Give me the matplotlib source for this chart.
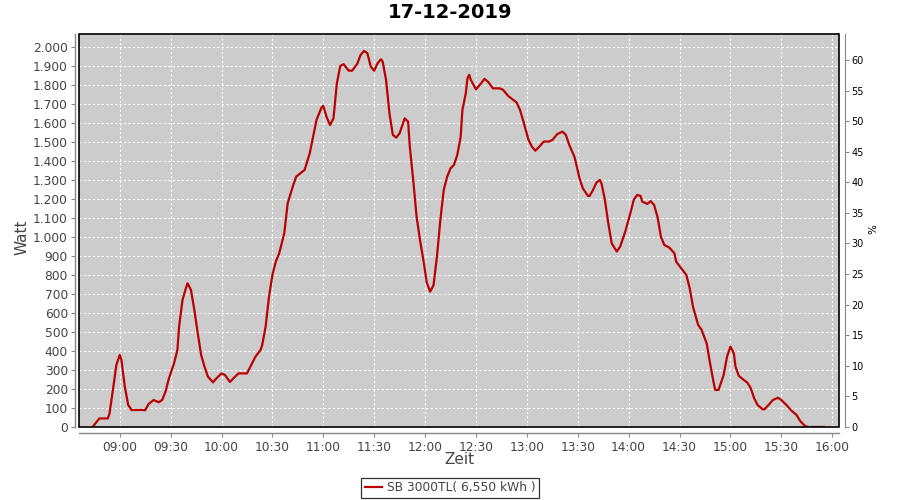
"""
Daily PV yield chart: inverter power over the day.
"""

import matplotlib

matplotlib.use("Agg")

import matplotlib.dates as mdates
import matplotlib.pyplot as plt
import numpy as np
import pandas as pd
from matplotlib.patches import Rectangle
from matplotlib.ticker import FuncFormatter

day = "2019-12-17"
title = "17-12-2019"
series_label = "SB 3000TL( 6,550 kWh )"

times = [
    "08:44", "08:48", "08:53", "08:54", "08:56", "08:58", "09:00", "09:01",
    "09:03", "09:05", "09:07", "09:13", "09:15", "09:17", "09:20", "09:23",
    "09:25", "09:27", "09:29", "09:32", "09:34", "09:35", "09:37", "09:39",
    "09:40", "09:42", "09:44", "09:46", "09:48", "09:50", "09:52", "09:55",
    "09:57", "10:00", "10:02", "10:05", "10:07", "10:10", "10:15", "10:17",
    "10:20", "10:23", "10:24", "10:26", "10:28", "10:30", "10:32", "10:34",
    "10:37", "10:39", "10:42", "10:44", "10:49", "10:52", "10:54", "10:56",
    "10:59", "11:00", "11:02", "11:04", "11:06", "11:08", "11:10", "11:12",
    "11:15", "11:17", "11:20", "11:22", "11:24", "11:26", "11:28", "11:30",
    "11:32", "11:34", "11:35", "11:37", "11:39", "11:41", "11:43", "11:45",
    "11:47", "11:48", "11:50", "11:51", "11:53", "11:55", "11:57", "11:59",
    "12:01", "12:03", "12:05", "12:07", "12:09", "12:11", "12:13", "12:15",
    "12:17", "12:19", "12:21", "12:22", "12:24", "12:25", "12:26", "12:27",
    "12:30", "12:33", "12:35", "12:37", "12:40", "12:44", "12:46", "12:49",
    "12:52", "12:54", "12:56", "12:58", "13:01", "13:03", "13:05", "13:07",
    "13:10", "13:13", "13:15", "13:18", "13:21", "13:23", "13:25", "13:28",
    "13:29", "13:31", "13:33", "13:36", "13:37", "13:39", "13:41", "13:43",
    "13:44", "13:46", "13:48", "13:50", "13:53", "13:55", "13:58", "14:01",
    "14:03", "14:05", "14:07", "14:08", "14:11", "14:13", "14:15", "14:17",
    "14:19", "14:21", "14:24", "14:27", "14:28", "14:31", "14:34", "14:36",
    "14:38", "14:41", "14:43", "14:46", "14:48", "14:50", "14:51", "14:53",
    "14:56", "14:58", "15:00", "15:02", "15:03", "15:05", "15:08", "15:10",
    "15:12", "15:14", "15:16", "15:19", "15:20", "15:23", "15:25", "15:28",
    "15:30", "15:33", "15:36", "15:39", "15:41", "15:44", "15:46", "15:47",
    "15:48", "15:55",
]

watts = [
    0, 45, 45, 72, 195, 326, 379, 353,
    212, 116, 89, 90, 88, 121, 142, 130,
    142, 186, 256, 335, 405, 528, 668, 730,
    756, 721, 616, 493, 379, 317, 265, 235,
    256, 282, 274, 237, 256, 282, 282, 317,
    370, 405, 432, 528, 686, 800, 870, 914,
    1019, 1177, 1265, 1317, 1353, 1440, 1528, 1616,
    1682, 1689, 1630, 1589, 1624, 1808, 1900, 1909,
    1875, 1875, 1911, 1958, 1979, 1967, 1896, 1875,
    1914, 1935, 1923, 1826, 1651, 1537, 1523, 1546,
    1598, 1624, 1607, 1475, 1300, 1107, 984, 879,
    760, 712, 747, 896, 1089, 1247, 1317, 1361,
    1379, 1432, 1528, 1668, 1756, 1835, 1853, 1826,
    1777, 1808, 1832, 1818, 1782, 1782, 1774, 1742,
    1721, 1707, 1668, 1607, 1510, 1475, 1454, 1472,
    1502, 1502, 1510, 1542, 1554, 1537, 1484, 1423,
    1388, 1309, 1256, 1216, 1216, 1247, 1286, 1300,
    1282, 1195, 1072, 967, 923, 949, 1028, 1125,
    1195, 1221, 1216, 1186, 1174, 1189, 1168, 1107,
    1002, 958, 944, 914, 870, 835, 800, 730,
    630, 537, 511, 440, 335, 239, 195, 195,
    274, 370, 423, 388, 317, 268, 247, 233,
    204, 151, 116, 93, 93, 121, 142, 154,
    142, 116, 86, 63, 33, 5, 0, np.nan,
    0, 0,
]

x_start = "08:36"
x_end = "16:04"
watt_max = 2068
watt_ticks = np.arange(0, 2001, 100)
percent_max = 64.25
percent_ticks = np.arange(0, 61, 5)

red = "#BB0000"
label_grey = "#444444"
axis_grey = "#888888"

stamps = pd.to_datetime([f"{day} {t}" for t in times])

fig = plt.figure(figsize=(9, 5), dpi=100)
ax = fig.add_axes([79 / 900, 73 / 500, 760 / 900, 393 / 500])
ax.set_facecolor("#CCCCCC")

ax.plot(stamps, watts, color=red, linewidth=1.6, zorder=3, label=series_label)

ax.set_xlim(pd.Timestamp(f"{day} {x_start}"), pd.Timestamp(f"{day} {x_end}"))
ax.set_ylim(0, watt_max)
ax.xaxis.set_major_locator(mdates.MinuteLocator(byminute=[0, 30]))
ax.xaxis.set_major_formatter(mdates.DateFormatter("%H:%M"))
ax.set_yticks(watt_ticks)
ax.yaxis.set_major_formatter(
    FuncFormatter(lambda v, pos: f"{int(v):,}".replace(",", "."))
)

ax.grid(True, color="white", linestyle=(0, (2, 2)), linewidth=0.8)
ax.set_axisbelow(True)

for side in ("top", "right"):
    ax.spines[side].set_visible(False)
ax.spines["left"].set_position(("outward", 3))
ax.spines["bottom"].set_position(("outward", 4))
for side in ("left", "bottom"):
    ax.spines[side].set_color(axis_grey)
    ax.spines[side].set_linewidth(1.0)

ax.tick_params(axis="both", colors=axis_grey, labelcolor=label_grey,
               labelsize=8.8, length=3, width=0.8)
ax.tick_params(axis="x", pad=3)
ax.tick_params(axis="y", pad=2)

# black frame around the plot area, the axis lines sit just outside it
ax.add_patch(Rectangle((0, 0), 1, 1, transform=ax.transAxes, fill=False,
                       edgecolor="black", linewidth=1.2, clip_on=False, zorder=4))

ax2 = ax.twinx()
ax2.set_ylim(0, percent_max)
ax2.set_yticks(percent_ticks)
for side in ("top", "left", "bottom"):
    ax2.spines[side].set_visible(False)
ax2.spines["right"].set_position(("outward", 4))
ax2.spines["right"].set_color(axis_grey)
ax2.tick_params(axis="y", colors=axis_grey, labelcolor="black",
                labelsize=7, length=3, width=0.8, pad=2)

fig.text(0.5, 0.974, title, ha="center", va="center",
         fontsize=14, fontweight="bold")
fig.text(0.024, 0.526, "Watt", ha="center", va="center", rotation=90,
         fontsize=11, color=label_grey)
fig.text(0.511, 0.08, "Zeit", ha="center", va="center",
         fontsize=11, color=label_grey)
fig.text(0.970, 0.542, "%", ha="center", va="center", rotation=90,
         fontsize=7.5, color="black")

legend = fig.legend(loc="lower center", bbox_to_anchor=(0.5, 0.004),
                    fontsize=8.8, frameon=True, fancybox=False,
                    handlelength=1.4, handletextpad=0.4, borderpad=0.3,
                    borderaxespad=0.0)
legend.get_frame().set_edgecolor("black")
legend.get_frame().set_linewidth(0.9)
for text in legend.get_texts():
    text.set_color(label_grey)

fig.savefig("out.png", dpi=100)
